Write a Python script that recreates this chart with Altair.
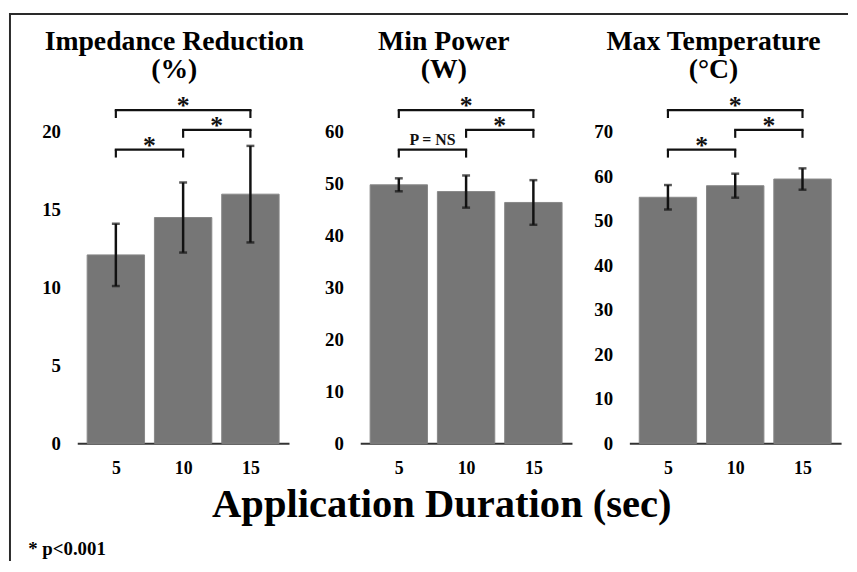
import altair as alt
import pandas as pd

# ---------------- data ----------------
durations = [5, 10, 15]

imp_mean = [12.1, 14.5, 16.0]
imp_sd = [2.0, 2.25, 3.1]
pow_mean = [49.8, 48.5, 46.4]
pow_sd = [1.25, 3.1, 4.3]
tmp_mean = [55.3, 57.9, 59.4]
tmp_sd = [2.75, 2.7, 2.4]

panel_titles = [["Impedance Reduction", "(%)"], ["Min Power", "(W)"], ["Max Temperature", "(°C)"]]
imp_ticks = [0, 5, 10, 15, 20]
pow_ticks = [0, 10, 20, 30, 40, 50, 60]
tmp_ticks = [0, 10, 20, 30, 40, 50, 60, 70]
y_max = [23, 69, 80.5]

bracket_from = [5, 10, 5]
bracket_to = [15, 15, 10]
imp_levels = [21.40, 20.13, 18.86]
pow_levels = [64.19, 60.38, 56.57]
tmp_levels = [74.89, 70.44, 66.0]
imp_labels = ["*", "*", "*"]
pow_labels = ["*", "*", "P = NS"]
tmp_labels = ["*", "*", "*"]

x_title = "Application Duration (sec)"
footnote = "* p<0.001"

# ---------------- layout / styling ----------------
FONT = "Liberation Serif"
BAR = "#767676"
INK = "#111111"
BORDER = "#2a2a2a"
W, H = 848, 556            # whole drawing area
PW = 214                   # width of one panel's band of bars
Y0, Y1 = 437, 75           # pixel range of the value axes (bottom, top)
PANEL_X = [69, 355, 627]   # left edge of each panel
TITLE_X = [167, 439.5, 712]
TICK_FS = 19


def xaxis(x0, title=None, **kw):
    opts = dict(orient="bottom", offset=-(H - Y0), values=durations, format="d",
                domain=True, domainColor="#333333", domainWidth=2,
                ticks=False, tickSize=0, grid=False, labelFont=FONT, labelFontSize=18,
                labelFontWeight="bold", labelColor="black", labelPadding=17, labelAngle=0)
    opts.update(kw)
    return alt.Axis(title=title, **opts)


def panel(i, mean, sd, levels, labels, ticks, xax):
    x0 = PANEL_X[i]
    df = pd.DataFrame({"dur": durations, "mean": mean, "sd": sd})
    df["lo"] = df["mean"] - df["sd"]
    df["hi"] = df["mean"] + df["sd"]

    xs = alt.Scale(domain=[2.5, 17.5], range=[x0, x0 + PW], nice=False, zero=False)
    ys = alt.Scale(domain=[0, y_max[i]], range=[Y0, Y1], nice=False, zero=True)

    yax = alt.Axis(orient="left", offset=-x0, values=ticks, title=None, domain=False,
                   ticks=False, tickSize=0, grid=False, labelFont=FONT, labelFontSize=TICK_FS,
                   labelFontWeight="bold", labelColor="black", labelPadding=17)

    base = alt.Chart(df)
    bars = base.mark_bar(size=58, color=BAR, stroke="#888888", strokeWidth=1).encode(
        x=alt.X("dur:Q", scale=xs, axis=xax),
        y=alt.Y("mean:Q", scale=ys, axis=yax),
    )
    err = base.mark_rule(color=INK, strokeWidth=2.5).encode(
        x=alt.X("dur:Q", scale=xs),
        y=alt.Y("lo:Q", scale=ys),
        y2="hi:Q",
    )
    cap_hi = base.mark_tick(orient="horizontal", size=8, thickness=2.5, color=INK).encode(
        x=alt.X("dur:Q", scale=xs),
        y=alt.Y("hi:Q", scale=ys),
    )
    cap_lo = base.mark_tick(orient="horizontal", size=8, thickness=2.5, color=INK).encode(
        x=alt.X("dur:Q", scale=xs),
        y=alt.Y("lo:Q", scale=ys),
    )

    bdf = pd.DataFrame({"x1": bracket_from, "x2": bracket_to, "lvl": levels, "lab": labels})
    bdf["mid"] = (bdf["x1"] + bdf["x2"]) / 2
    ends = pd.DataFrame({"x": bracket_from + bracket_to, "lvl": levels + levels})

    hline = alt.Chart(bdf).mark_rule(color=INK, strokeWidth=2.2, strokeCap="square").encode(
        x=alt.X("x1:Q", scale=xs),
        x2="x2:Q",
        y=alt.Y("lvl:Q", scale=ys),
    )
    vticks = alt.Chart(ends).mark_rule(color=INK, strokeWidth=2.2, y2Offset=8).encode(
        x=alt.X("x:Q", scale=xs),
        y=alt.Y("lvl:Q", scale=ys),
        y2="lvl:Q",
    )
    stars = alt.Chart(bdf).transform_filter(alt.datum.lab == "*").mark_text(
        font=FONT, fontSize=26, fontWeight="bold", baseline="alphabetic", dy=4, color=INK
    ).encode(
        x=alt.X("mid:Q", scale=xs),
        y=alt.Y("lvl:Q", scale=ys),
        text="lab:N",
    )
    notes = alt.Chart(bdf).transform_filter(alt.datum.lab != "*").mark_text(
        font=FONT, fontSize=16, fontWeight="bold", baseline="alphabetic", dy=-5, color=INK
    ).encode(
        x=alt.X("mid:Q", scale=xs),
        y=alt.Y("lvl:Q", scale=ys),
        text="lab:N",
    )
    return alt.layer(bars, err, cap_hi, cap_lo, hline, vticks, stars, notes)


p1 = panel(0, imp_mean, imp_sd, imp_levels, imp_labels, imp_ticks,
           xaxis(PANEL_X[0], footnote, titleX=19, titleY=112, titleAlign="left",
                 titleBaseline="alphabetic", titleFont=FONT, titleFontSize=19,
                 titleFontWeight="bold", titleColor="black"))
p2 = panel(1, pow_mean, pow_sd, pow_levels, pow_labels, pow_ticks,
           xaxis(PANEL_X[1], x_title, titleX=437, titleY=74, titleAlign="center",
                 titleBaseline="alphabetic", titleFont=FONT, titleFontSize=41,
                 titleFontWeight="bold", titleColor="black"))
p3 = panel(2, tmp_mean, tmp_sd, tmp_levels, tmp_labels, tmp_ticks, xaxis(PANEL_X[2], None))

one = pd.DataFrame({"k": [0]})
titles = [
    alt.Chart(one).mark_text(
        text=t, font=FONT, fontSize=28, fontWeight="bold", lineHeight=29,
        baseline="alphabetic", align="center", color="black"
    ).encode(x=alt.value(tx), y=alt.value(39))
    for t, tx in zip(panel_titles, TITLE_X)
]
frame_top = alt.Chart(one).mark_rule(color=BORDER, strokeWidth=2).encode(
    x=alt.value(0), x2=alt.value(W), y=alt.value(3))
frame_left = alt.Chart(one).mark_rule(color=BORDER, strokeWidth=2).encode(
    x=alt.value(1), y=alt.value(2), y2=alt.value(H))

chart = alt.layer(p1, p2, p3, *titles, frame_top, frame_left).resolve_scale(
    x="independent", y="independent"
).properties(
    width=W, height=H, padding=0, background="white"
).configure_view(stroke=None)

chart.save("out.html", embed_options={"renderer": "svg", "actions": False})
